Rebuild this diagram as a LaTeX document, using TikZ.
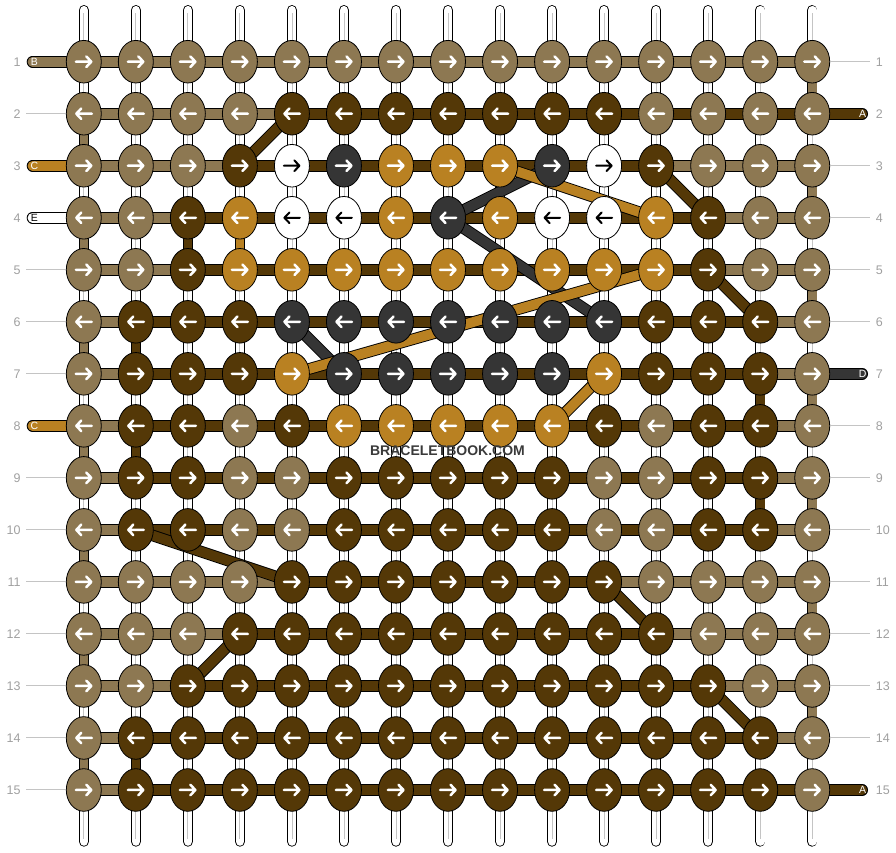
\documentclass[tikz,border=0pt]{standalone}
\usepackage{fontspec}
\setmainfont{Liberation Sans}
\usetikzlibrary{shapes.geometric}
\pgfdeclarelayer{strands}
\pgfdeclarelayer{segs}
\pgfdeclarelayer{diags}
\pgfsetlayers{strands,segs,diags,main}
\definecolor{cT}{HTML}{8D7852}
\definecolor{cD}{HTML}{543807}
\definecolor{cG}{HTML}{B98122}
\definecolor{cK}{HTML}{353535}
\definecolor{cW}{HTML}{FFFFFF}
\definecolor{numgray}{HTML}{A0A0A0}
\definecolor{linegray}{HTML}{C4C4C4}
\definecolor{wmgray}{HTML}{3A3A3A}
\tikzset{
 knot/.style={ellipse, draw=black, line width=0.8pt, minimum width=35pt, minimum height=42.6pt, inner sep=0pt},
 band/.style={draw=black, line width=0.9pt, double=#1, double distance=9.8pt},
 vband/.style={draw=black, line width=0.9pt, double=#1, double distance=8.6pt},
 arrw/.style={line width=2.5pt, line cap=round, line join=round},
 arrT/.style={draw=white}, arrD/.style={draw=white}, arrG/.style={draw=white},
 arrK/.style={draw=white}, arrW/.style={draw=black, line width=2pt},
 num/.style={text=numgray, font=\fontsize{12.5}{14}\selectfont, inner sep=0pt},
 lab/.style={font=\fontsize{10.5}{12}\selectfont, inner sep=0pt},
 rowline/.style={draw=linegray, line width=1pt},
}
\begin{document}
\begin{tikzpicture}[x=1pt,y=-1pt]
\useasboundingbox (0,0) rectangle (896,852);
% knots
\foreach \r/\row in {
 1/{T,T,T,T,T,T,T,T,T,T,T,T,T,T,T},
 2/{T,T,T,T,D,D,D,D,D,D,D,T,T,T,T},
 3/{T,T,T,D,W,K,G,G,G,K,W,D,T,T,T},
 4/{T,T,D,G,W,W,G,K,G,W,W,G,D,T,T},
 5/{T,T,D,G,G,G,G,G,G,G,G,G,D,T,T},
 6/{T,D,D,D,K,K,K,K,K,K,K,D,D,D,T},
 7/{T,D,D,D,G,K,K,K,K,K,G,D,D,D,T},
 8/{T,D,D,T,D,G,G,G,G,G,D,T,D,D,T},
 9/{T,D,D,T,T,D,D,D,D,D,T,T,D,D,T},
 10/{T,D,D,T,T,D,D,D,D,D,T,T,D,D,T},
 11/{T,T,T,T,D,D,D,D,D,D,D,T,T,T,T},
 12/{T,T,T,D,D,D,D,D,D,D,D,D,T,T,T},
 13/{T,T,D,D,D,D,D,D,D,D,D,D,D,T,T},
 14/{T,D,D,D,D,D,D,D,D,D,D,D,D,D,T},
 15/{T,D,D,D,D,D,D,D,D,D,D,D,D,D,T}}{
 \pgfmathsetmacro{\dd}{ifthenelse(mod(\r,2)==1,1,-1)}
 \foreach \col [count=\c] in \row {
   \node[knot, fill=c\col] (n\r-\c) at ({83.8+(\c-1)*52.03},{61.7+(\r-1)*52.02}) {};
   \begin{scope}[shift={(n\r-\c.center)}, xscale=\dd]
     \draw[arrw, arr\col] (-8,0) -- (7.5,0) (2.5,-5.3) -- (7.5,0) -- (2.5,5.3);
   \end{scope}
 }
}
% vertical strands
\begin{pgfonlayer}{strands}
\foreach \c in {1,...,15} {
  \coordinate (top\c) at ({83.8+(\c-1)*52.03}, 10.2);
  \coordinate (bot\c) at ({83.8+(\c-1)*52.03}, 841.5);
  \draw[vband=white, line cap=round] (top\c) -- (bot\c);
  \draw[linegray, line width=0.8pt, shorten <=3pt, shorten >=3pt] (top\c) -- (bot\c);
}
\end{pgfonlayer}
% horizontal segments and coloured gaps
\begin{pgfonlayer}{segs}
\foreach \r/\row in {
 1/{T,T,T,T,T,T,T,T,T,T,T,T,T,T},
 2/{T,T,T,T,D,D,D,D,D,D,D,D,D,D},
 3/{T,T,T,D,D,D,D,D,D,D,D,T,T,T},
 4/{T,T,D,D,D,D,D,D,D,D,D,D,T,T},
 5/{T,T,D,D,D,D,D,D,D,D,D,D,T,T},
 6/{T,D,D,D,D,D,D,D,D,D,D,D,D,T},
 7/{T,D,D,D,D,D,D,D,D,D,D,D,D,T},
 8/{T,D,D,D,D,D,D,D,D,D,D,D,D,T},
 9/{T,D,D,D,D,D,D,D,D,D,D,D,D,T},
 10/{T,D,D,D,D,D,D,D,D,D,D,D,D,T},
 11/{T,T,T,T,D,D,D,D,D,D,T,T,T,T},
 12/{T,T,T,D,D,D,D,D,D,D,D,T,T,T},
 13/{T,T,D,D,D,D,D,D,D,D,D,D,T,T},
 14/{T,D,D,D,D,D,D,D,D,D,D,D,D,T},
 15/{T,D,D,D,D,D,D,D,D,D,D,D,D,D}}{
 \foreach \col [count=\c] in \row {
   \pgfmathtruncatemacro{\cn}{\c+1}
   \draw[band=c\col] (n\r-\c.center) -- (n\r-\cn.center);
 }
}
\foreach \r/\c/\col in {1/15/T,2/1/T,3/15/T,4/1/T,4/3/D,4/4/G,5/15/T,6/1/T,6/2/D,
  7/14/D,7/15/T,8/1/T,8/2/D,9/14/D,9/15/T,10/1/T,11/15/T,12/1/T,13/15/T,14/1/T,14/2/D} {
  \pgfmathtruncatemacro{\rn}{\r+1}
  \draw[vband=c\col] (n\r-\c.center) -- (n\rn-\c.center);
}
% entries and exits
\foreach \r/\col in {1/T,3/G,4/W,8/G} {
  \path (n\r-1.center) ++(-51.3,0) coordinate (in\r);
  \draw[band=c\col, line cap=round] (in\r) -- (n\r-1.center);
}
\foreach \r/\col in {2/D,7/K,15/D} {
  \path (n\r-15.center) ++(50,0) coordinate (out\r);
  \draw[band=c\col, line cap=round] (n\r-15.center) -- (out\r);
}
\end{pgfonlayer}
% diagonals
\begin{pgfonlayer}{diags}
\foreach \a/\b/\col in {n2-5/n3-4/D, n3-12/n4-13/D, n5-13/n6-14/D, n10-2/n11-5/D,
  n11-11/n12-12/D, n12-4/n13-3/D, n13-13/n14-14/D,
  n3-10/n4-8/K, n4-8/n6-11/K, n6-5/n7-6/K,
  n3-9/n4-12/G, n5-12/n7-5/G, n8-10/n7-11/G}
  \draw[band=c\col] (\a.center) -- (\b.center);
\end{pgfonlayer}
% labels of entries and exits
\node[lab, text=white] (lb1) at ([xshift=2pt]in1) {B};
\node[lab, text=white] (lb3) at ([xshift=2pt]in3) {C};
\node[lab, text=black] (lb4) at ([xshift=2pt]in4) {E};
\node[lab, text=white] (lb8) at ([xshift=2pt]in8) {C};
\node[lab, text=white] (lb2) at ([xshift=0.5pt]out2) {A};
\node[lab, text=white] (lb7) at ([xshift=0.5pt]out7) {D};
\node[lab, text=white] (lb15) at ([xshift=0.5pt]out15) {A};
% row lines
\foreach \r in {2,5,6,7,9,10,11,12,13,14,15} {
  \path (n\r-1.center) ++(-57.8,0) coordinate (ll\r);
  \draw[rowline] (ll\r) -- (n\r-1.west);
}
\foreach \r in {1,3,4,5,6,8,9,10,11,12,13,14} {
  \path (n\r-15.center) ++(57.8,0) coordinate (rl\r);
  \draw[rowline] (n\r-15.east) -- (rl\r);
}
% row numbers
\foreach \r in {1,...,15} {
  \path (n\r-1.center) ++(-63,0) node[num, anchor=east] (L\r) {\r};
  \path (n\r-15.center) ++(63.5,0) node[num, anchor=west] (R\r) {\r};
}
\node[font=\bfseries\fontsize{14}{16}\selectfont, text=wmgray, inner sep=0pt] (wm) at (447.5,451) {BRACELETBOOK.COM};
\end{tikzpicture}
\end{document}
